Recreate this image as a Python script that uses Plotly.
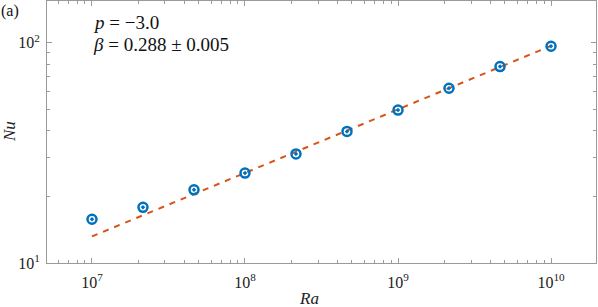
import plotly.graph_objects as go

ra = [1e7, 2.154e7, 4.642e7, 1e8, 2.154e8, 4.642e8, 1e9, 2.154e9, 4.642e9, 1e10]
nu = [15.8, 17.9, 21.5, 25.6, 31.3, 39.6, 49.5, 62.2, 78.0, 96.5]
fit_ra = [1e7, 1e10]
fit_nu = [13.2, 96.9]
x_tickvals = [1e7, 1e8, 1e9, 1e10]
x_ticktext = ["10<sup>7</sup>", "10<sup>8</sup>", "10<sup>9</sup>", "10<sup>10</sup>"]
y_tickvals = [10, 100]
y_ticktext = ["10<sup>1</sup>", "10<sup>2</sup>"]

FONT = "Liberation Serif, Times New Roman, DejaVu Serif, serif"
BLUE = "#0072BD"
ORANGE = "#D95319"
AX = "#9a9a9a"
TXT = "#222"

fig = go.Figure()
fig.add_trace(go.Scatter(x=fit_ra, y=fit_nu, mode="lines",
                         line=dict(color=ORANGE, width=2, dash="6px,6px"),
                         showlegend=False))
fig.add_trace(go.Scatter(x=ra, y=nu, mode="markers",
                         marker=dict(symbol="circle-open-dot", size=9, color=BLUE,
                                     line=dict(color=BLUE, width=2.5)),
                         showlegend=False))

axis_common = dict(showline=True, linecolor=AX, linewidth=1, mirror="ticks",
                   ticks="inside", ticklen=5, tickcolor=AX, showgrid=False,
                   zeroline=False, automargin=False,
                   minor=dict(ticks="inside", ticklen=3, tickcolor=AX, dtick="D1", showgrid=False),
                   tickfont=dict(family=FONT, size=16, color=TXT))

fig.update_xaxes(type="log", range=[6.706, 10.294], tickvals=x_tickvals, ticktext=x_ticktext,
                 ticklabelstandoff=5, **axis_common)
fig.update_yaxes(type="log", range=[1.0, 2.19], tickvals=y_tickvals, ticktext=y_ticktext,
                 ticklabelstandoff=3, **axis_common)

fig.add_annotation(xref="paper", yref="paper", x=0.478, y=-0.135, xanchor="center", yanchor="middle",
                   text="<i>Ra</i>", showarrow=False,
                   font=dict(family=FONT, size=17, color=TXT))
fig.add_annotation(xref="paper", yref="paper", x=-0.069, y=0.5, xanchor="center", yanchor="middle",
                   text="<i>Nu</i>", showarrow=False, textangle=-90,
                   font=dict(family=FONT, size=17, color=TXT))
fig.add_annotation(xref="paper", yref="paper", x=0.08, y=0.918, xanchor="left", yanchor="middle",
                   text="<i>p</i> = \u22123.0", showarrow=False,
                   font=dict(family=FONT, size=19, color="#111"))
fig.add_annotation(xref="paper", yref="paper", x=0.08, y=0.834, xanchor="left", yanchor="middle",
                   text="<i>\u03b2</i> = 0.288 \u00b1 0.005", showarrow=False,
                   font=dict(family=FONT, size=19, color="#111"))
fig.add_annotation(xref="paper", yref="paper", x=-0.068, y=0.96, xanchor="center", yanchor="middle",
                   text="(a)", showarrow=False,
                   font=dict(family=FONT, size=16, color="#111"))

fig.update_layout(width=598, height=307, margin=dict(l=47, r=2, t=1, b=44),
                  plot_bgcolor="white", paper_bgcolor="white",
                  font=dict(family=FONT))

fig.write_html("out.html", config={"displayModeBar": False},
               post_script="document.body.style.margin='0';document.body.style.padding='0';")
